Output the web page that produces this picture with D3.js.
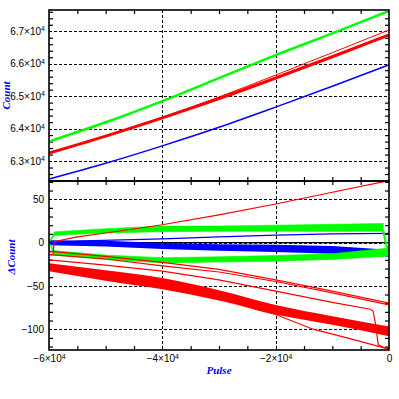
<!DOCTYPE html>
<html>
<head>
<meta charset="utf-8">
<script src="https://cdn.jsdelivr.net/npm/d3@7"></script>
<style>
  html, body { margin: 0; padding: 0; background: #fff; }
  svg { display: block; }
  .tick text { font-family: "Liberation Sans", Arial, sans-serif; font-size: 10px; fill: #000; }
  .title { font-family: "Liberation Serif", serif; font-weight: bold; font-style: italic; font-size: 11px; fill: #0000ff; }
</style>
</head>
<body>
<div id="chart"></div>
<script>
// ---- top panel: Count vs Pulse ----
const pulseTop = [-60000, -50000, -40000, -30000, -20000, -10000, 0];
const countGreen = [63603, 64194, 64849, 65554, 66265, 66935, 67625];
const countRedThick = [63246, 63770, 64332, 64923, 65560, 66215, 66886];
const countRedThin = [63246, 63775, 64350, 64975, 65650, 66340, 67040];
const countBlue = [62446, 62932, 63468, 64040, 64662, 65305, 65963];

// ---- bottom panel: ΔCount vs Pulse ----
// bands: [pulse, upper, lower]
const greenUpperBand = [[-60000, 0, 0], [-59000, 12.5, 8], [-55000, 14, 9.5], [-50000, 16, 11], [-40000, 19, 12.5],
  [-30000, 19, 13], [-20000, 20, 13], [-10000, 21, 13], [-1000, 22, 13]];
const greenLowerBand = [[-60000, 0, 0], [-59000, -9.5, -14.5], [-50000, -14.5, -19.5], [-40000, -17.5, -23.5], [-30000, -16.5, -22.5],
  [-20000, -15, -21.5], [-10000, -13, -19.5], [-1000, -7, -16], [0, -7, -15]];
const blueBand = [[-60000, 2.5, -3], [-50000, 2, -4.5], [-40000, -0.5, -7.5], [-30000, -2, -9.5], [-20000, -2.7, -11],
  [-10000, -4, -13], [-2000, -7.5, -15.5], [0, -8.5, -16.5]];
const redBand = [[-60000, -24, -33], [-50000, -32, -44], [-40000, -41, -54], [-30000, -55, -67], [-20000, -72, -83],
  [-10000, -85, -95], [0, -97, -108]];
// single lines: [pulse, value]
const zeroLine = [[-60000, 0], [0, 0]];
const greenDrop = [[-1000, 14], [-700, 3], [-300, -6], [0, -8]];
const blueThin = [[-60000, 0], [-54000, 2], [-40000, 4.3], [-30000, 6.5], [-20000, 8.5], [-10000, 10], [0, 10.5]];
const redRise = [[-60000, -14], [-59300, -14], [-59100, 1], [-55000, 6.5], [-50000, 11], [-40000, 20.5],
  [-30000, 32], [-20000, 44.5], [-10000, 58], [0, 71.5]];
const redFallA = [[-60000, -10], [-50000, -16], [-40000, -23], [-30000, -31], [-20000, -43], [-10000, -56], [0, -70]];
const redFallB = [[-60000, -14], [-50000, -19], [-40000, -27], [-30000, -34], [-20000, -45], [-10000, -58], [0, -72]];
const redFallC = [[-60000, -20], [-50000, -26], [-40000, -33], [-30000, -43], [-20000, -56], [-10000, -69],
  [-3300, -77], [-2800, -79], [-2300, -97], [-1900, -118], [-1000, -121], [0, -122]];
const redFallD = [[-30000, -64], [-23000, -78], [-20000, -83], [-13400, -100], [-7400, -110], [0, -123]];

// ticks
const xMajor = [-60000, -40000, -20000, 0];
const xMinor = d3.range(-55000, 0, 5000).filter((v) => v % 20000 !== 0);
const xGrid = [-40000, -20000];
const yTopMajor = [63000, 64000, 65000, 66000, 67000];
const yTopMinor = d3.range(62400, 67700, 200).filter((v) => v % 1000 !== 0);
const yBotMajor = [-100, -50, 0, 50];
const yBotMinor = d3.range(-120, 71, 10).filter((v) => v % 50 !== 0);

const width = 399, height = 399;
const left = 49, right = 389;
const topY0 = 10, mid = 181, botY1 = 350;

const svg = d3.select("#chart").append("svg").attr("width", width).attr("height", height);

const x = d3.scaleLinear().domain([-60000, 0]).range([left, right]);
const yTop = d3.scaleLinear().domain([62385, 67655]).range([mid, topY0]);
const yBot = d3.scaleLinear().domain([-124, 71]).range([botY1, mid]);

function sci(sel, mant) {
  sel.text(null);
  sel.append("tspan").text(mant + "×10");
  sel.append("tspan").attr("dy", "-0.5em").attr("font-size", "7px").text("4");
}

function panel(y, y0, y1, yMajor, yMinor, clipId) {
  const g = svg.append("g");
  svg.append("clipPath").attr("id", clipId)
    .append("rect").attr("x", left).attr("y", y0).attr("width", right - left).attr("height", y1 - y0);

  // dotted grid
  const grid = g.append("g").attr("stroke", "#000").attr("stroke-width", 1).attr("stroke-dasharray", "3,2");
  grid.selectAll(".gy").data(yMajor).join("line")
    .attr("x1", left).attr("x2", right).attr("y1", (d) => Math.round(y(d)) + 0.5).attr("y2", (d) => Math.round(y(d)) + 0.5);
  grid.selectAll(".gx").data(xGrid).join("line")
    .attr("y1", y0).attr("y2", y1).attr("x1", (d) => Math.round(x(d)) + 0.5).attr("x2", (d) => Math.round(x(d)) + 0.5);

  // minor ticks, pointing inwards on all four sides
  const strip = (s) => { s.select(".domain").remove(); s.selectAll("text").remove(); s.selectAll("line").attr("stroke-width", 1.2); };
  g.append("g").attr("transform", `translate(${left},0)`).call(d3.axisLeft(y).tickValues(yMinor).tickSize(-4)).call(strip);
  g.append("g").attr("transform", `translate(${right},0)`).call(d3.axisRight(y).tickValues(yMinor).tickSize(-4)).call(strip);
  g.append("g").attr("transform", `translate(0,${y1})`).call(d3.axisBottom(x).tickValues(xMinor).tickSize(-4)).call(strip);
  g.append("g").attr("transform", `translate(0,${y0})`).call(d3.axisTop(x).tickValues(xMinor).tickSize(-4)).call(strip);

  return g;
}

// ---- top panel ----
panel(yTop, topY0, mid, yTopMajor, yTopMinor, "clipTop");
const topLines = svg.append("g").attr("clip-path", "url(#clipTop)").attr("fill", "none");
const lineTop = (vals) => d3.line().curve(d3.curveMonotoneX)(pulseTop.map((p, i) => [x(p), yTop(vals[i])]));
topLines.append("path").attr("d", lineTop(countBlue)).attr("stroke", "#0000ff").attr("stroke-width", 1.5);
topLines.append("path").attr("d", lineTop(countRedThin)).attr("stroke", "#ff0000").attr("stroke-width", 1);
topLines.append("path").attr("d", lineTop(countRedThick)).attr("stroke", "#ff0000").attr("stroke-width", 3);
topLines.append("path").attr("d", lineTop(countGreen)).attr("stroke", "#00ff00").attr("stroke-width", 2.5);

// ---- bottom panel ----
panel(yBot, mid, botY1, yBotMajor, yBotMinor, "clipBot");
const botLines = svg.append("g").attr("clip-path", "url(#clipBot)");
const lineBot = d3.line().x((d) => x(d[0])).y((d) => yBot(d[1]));
const areaBot = d3.area().x((d) => x(d[0])).y0((d) => yBot(d[2])).y1((d) => yBot(d[1]));
const smoothBand = d3.area().curve(d3.curveMonotoneX).x((d) => x(d[0])).y0((d) => yBot(d[2])).y1((d) => yBot(d[1]));

botLines.append("path").attr("d", lineBot(zeroLine)).attr("fill", "none").attr("stroke", "#000").attr("stroke-width", 1.2);
botLines.append("path").attr("d", areaBot(blueBand)).attr("fill", "#0000ff");
botLines.append("path").attr("d", lineBot(blueThin)).attr("fill", "none").attr("stroke", "#0000ff").attr("stroke-width", 1.2);
botLines.append("path").attr("d", areaBot(greenUpperBand)).attr("fill", "#00ff00").attr("stroke", "#00ff00").attr("stroke-width", 0.6);
botLines.append("path").attr("d", areaBot(greenLowerBand)).attr("fill", "#00ff00").attr("stroke", "#00ff00").attr("stroke-width", 0.6);
botLines.append("path").attr("d", lineBot(greenDrop)).attr("fill", "none").attr("stroke", "#00ff00").attr("stroke-width", 2);
botLines.append("path").attr("d", smoothBand(redBand)).attr("fill", "#ff0000");
[redRise, redFallA, redFallB, redFallC, redFallD].forEach((s) => {
  botLines.append("path").attr("d", lineBot(s)).attr("fill", "none").attr("stroke", "#ff0000").attr("stroke-width", 1.2);
});

// ---- frames ----
[[topY0, mid], [mid, botY1]].forEach(([a, b]) => {
  svg.append("rect").attr("x", left).attr("y", a).attr("width", right - left).attr("height", b - a)
    .attr("fill", "none").attr("stroke", "#000").attr("stroke-width", 1.6);
});

// ---- tick labels ----
svg.append("g").attr("transform", `translate(${left},0)`)
  .call(d3.axisLeft(yTop).tickValues(yTopMajor).tickSize(0).tickPadding(4))
  .call((s) => {
    s.select(".domain").remove();
    s.selectAll("text").each(function (d) { sci(d3.select(this), (d / 10000).toFixed(1)); });
  });

svg.append("g").attr("transform", `translate(${left},0)`)
  .call(d3.axisLeft(yBot).tickValues(yBotMajor).tickSize(0).tickPadding(5).tickFormat((d) => d < 0 ? "−" + Math.abs(d) : String(d)))
  .call((s) => s.select(".domain").remove());

svg.append("g").attr("transform", `translate(0,${botY1})`)
  .call(d3.axisBottom(x).tickValues(xMajor).tickSize(0).tickPadding(5))
  .call((s) => {
    s.select(".domain").remove();
    s.selectAll("text").each(function (d) {
      if (d === 0) d3.select(this).text("0");
      else sci(d3.select(this), "−" + Math.abs(d / 10000));
    });
  });

// ---- axis titles ----
svg.append("text").attr("class", "title").attr("text-anchor", "middle")
  .attr("transform", `translate(10,${(topY0 + mid) / 2}) rotate(-90)`).text("Count");
svg.append("text").attr("class", "title").attr("text-anchor", "middle")
  .attr("transform", "translate(15,257) rotate(-90)").text("ΔCount");
svg.append("text").attr("class", "title").attr("text-anchor", "middle")
  .attr("x", (left + right) / 2).attr("y", 374).text("Pulse");
</script>
</body>
</html>
